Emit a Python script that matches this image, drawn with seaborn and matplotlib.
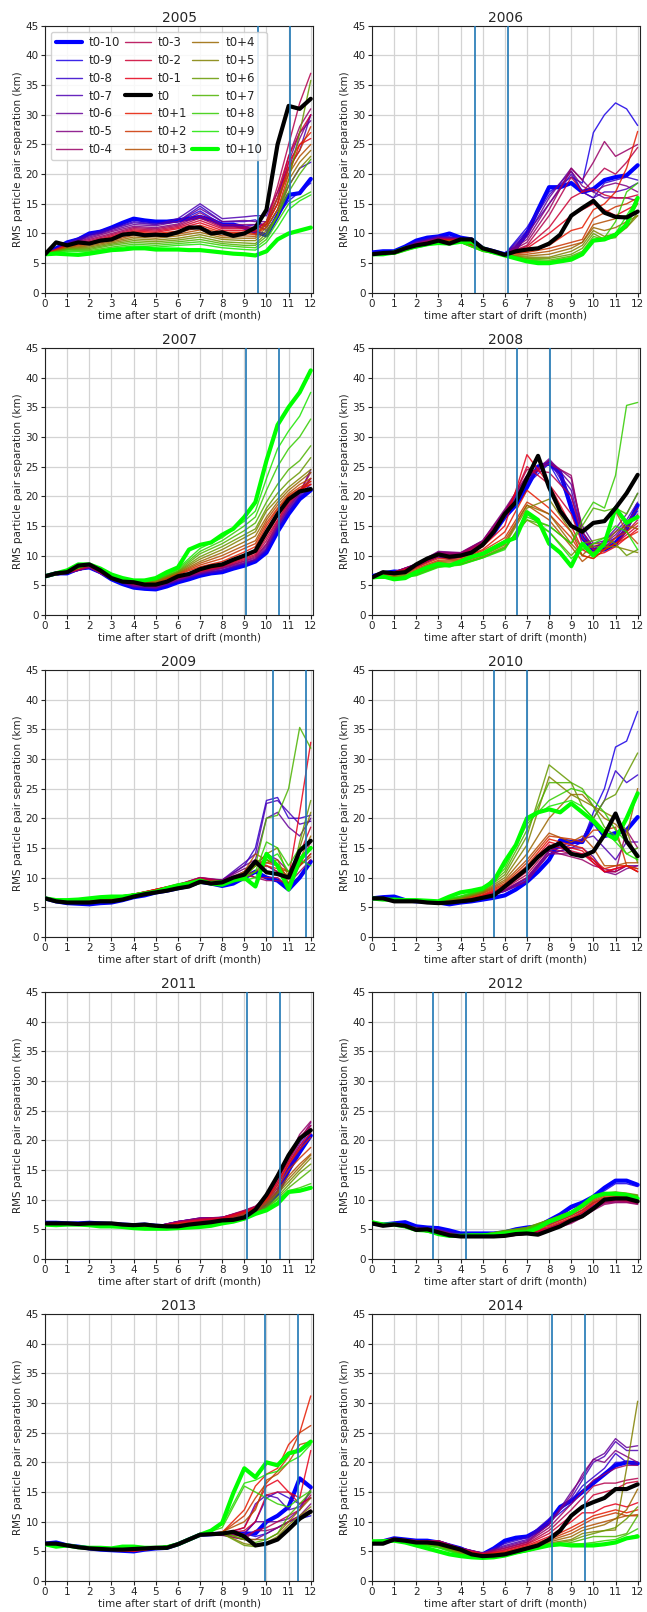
import matplotlib
matplotlib.use("Agg")
import matplotlib.pyplot as plt
import seaborn as sns
import pandas as pd

# ---------------- data ----------------
YEARS = [2005, 2006, 2007, 2008, 2009, 2010, 2011, 2012, 2013, 2014]
LABELS = ['t0-10', 't0-9', 't0-8', 't0-7', 't0-6', 't0-5', 't0-4', 't0-3', 't0-2', 't0-1', 't0',
          't0+1', 't0+2', 't0+3', 't0+4', 't0+5', 't0+6', 't0+7', 't0+8', 't0+9', 't0+10']
THIN_LABELS = ['t0-9', 't0-8', 't0-7', 't0-6', 't0-5', 't0-4', 't0-3', 't0-2', 't0-1',
               't0+1', 't0+2', 't0+3', 't0+4', 't0+5', 't0+6', 't0+7', 't0+8', 't0+9']

# time grids (month)
T_THICK = [0, 0.5, 1, 1.5, 2, 2.5, 3, 3.5, 4, 4.5, 5, 5.5, 6, 6.5, 7, 7.5, 8, 8.5, 9, 9.5, 10, 10.5, 11, 11.5, 12]
T_THIN = [0, 1, 2, 3, 4, 5, 6, 7, 8, 9, 9.5, 10, 10.5, 11, 11.5, 12]

# vertical marker lines per year
VLINE_A = [9.62, 4.67, 9.09, 6.55, 10.29, 5.52, 9.11, 2.76, 9.94, 8.13]
VLINE_B = [11.07, 6.16, 10.58, 8.03, 11.78, 6.99, 10.60, 4.24, 11.43, 9.61]

# ---- 2005 ----
M10_2005 = [6.5, 7.5, 8.5, 9, 10, 10.3, 11, 11.8, 12.5, 12.2, 12, 12, 12.2, 12.5, 12.8, 12.3, 11.5, 11.5, 11, 10.2, 9.7, 13, 16.5, 16.8, 19.2]
T0_2005 = [6.5, 8.5, 8, 8.5, 8.3, 8.8, 9, 9.8, 10, 9.7, 9.8, 9.7, 10.2, 11, 11, 10, 10.2, 9.6, 10, 11, 14, 25, 31.5, 31, 32.7]
P10_2005 = [6.5, 6.6, 6.5, 6.4, 6.6, 6.9, 7.2, 7.3, 7.5, 7.5, 7.3, 7.3, 7.3, 7.2, 7.2, 7.0, 6.8, 6.6, 6.5, 6.3, 7.0, 9.0, 10, 10.5, 11.0]
THIN_2005 = [
    [6.5, 8.5, 10, 11, 12.3, 11.8, 12, 13.8, 11.5, 11.2, 11.5, 10.5, 13, 15.5, 17, 18.5],
    [6.5, 8.4, 9.8, 10.8, 12, 11.6, 12, 14.6, 12, 12, 12.3, 11, 14, 18, 21, 22],
    [6.5, 8.3, 9.6, 10.7, 11.8, 11.5, 12.5, 15, 12.5, 12.8, 13, 13, 17, 21, 24, 30],
    [6.5, 8.2, 9.4, 10.5, 11.5, 11.3, 12, 14.2, 12, 12.2, 12, 12, 16, 22, 27, 29],
    [6.5, 8.1, 9.2, 10.3, 11.2, 11, 11.6, 13.5, 11.5, 11.5, 11.5, 11.5, 15, 21, 26, 30],
    [6.5, 8.1, 9, 10, 11, 10.8, 11.4, 13, 11.2, 11.2, 11, 11.5, 16, 23, 28, 31],
    [6.5, 8, 8.8, 9.8, 10.8, 10.6, 11.2, 12.6, 11, 11, 10.8, 12, 18, 25, 32, 37],
    [6.5, 8, 8.6, 9.6, 10.6, 10.4, 11, 12.2, 10.8, 10.8, 10.5, 12, 17, 23, 27, 30],
    [6.5, 8, 8.5, 9.4, 10.4, 10.2, 10.8, 11.8, 10.5, 10.5, 10.3, 11.5, 15, 22, 25, 26],
    [6.5, 7.9, 8.4, 9.2, 10.2, 10, 10.4, 11.4, 10.2, 10.2, 10, 11, 14, 20, 25, 27],
    [6.5, 7.8, 8.3, 9, 10, 9.8, 10.2, 11, 10, 10, 9.8, 11.5, 15, 21, 24, 28],
    [6.5, 7.7, 8.1, 8.8, 9.7, 9.5, 9.9, 10.6, 9.6, 9.6, 9.5, 12, 16, 20, 23, 25],
    [6.5, 7.6, 7.9, 8.6, 9.4, 9.2, 9.6, 10.2, 9.3, 9.2, 9.2, 11, 14, 19, 22, 24],
    [6.5, 7.5, 7.7, 8.4, 9.1, 8.9, 9.2, 9.8, 9, 8.8, 8.8, 10.5, 13, 18, 21, 23],
    [6.5, 7.4, 7.5, 8.2, 8.8, 8.6, 8.9, 9.4, 8.6, 8.4, 8.3, 10, 13, 19, 27, 35.8],
    [6.5, 7.3, 7.3, 8, 8.5, 8.3, 8.6, 9, 8.3, 8, 8, 9.5, 13, 17, 20, 22.5],
    [6.5, 7.2, 7.1, 7.7, 8.2, 8, 8.3, 8.6, 8, 7.7, 7.6, 9, 12, 15, 16, 17],
    [6.5, 7, 6.9, 7.5, 7.9, 7.7, 8, 8.2, 7.6, 7.3, 7.2, 8.5, 11, 14, 15.5, 16.5],
]

# ---- 2006 ----
M10_2006 = [6.8, 7, 7, 7.8, 8.8, 9.3, 9.5, 10, 9.3, 9, 7.5, 7, 6.5, 7.5, 10, 14, 17.8, 17.8, 18.5, 17, 17.5, 19, 19.5, 19.8, 21.5]
T0_2006 = [6.5, 6.7, 6.8, 7.5, 8, 8.3, 8.8, 8.3, 9, 9, 7.5, 7, 6.4, 7, 7.3, 7.5, 8.3, 9.8, 13, 14.3, 15.5, 13.5, 12.8, 12.7, 13.7]
P10_2006 = [6.5, 6.5, 6.8, 7.5, 7.8, 8.2, 8.4, 8.3, 8.6, 8.6, 7.5, 6.8, 6.3, 5.8, 5.3, 5, 5, 5.3, 5.6, 6.5, 8.8, 9, 9.8, 11.5, 16]
THIN_2006 = [
    [6.8, 6.9, 8.7, 9.6, 9.3, 7.5, 6.5, 11, 17, 19.5, 18.5, 27, 30, 32, 31, 28.2],
    [6.8, 6.9, 8.6, 9.5, 9.2, 7.5, 6.5, 10.5, 16.5, 20.5, 17, 16, 18.5, 19, 19.5, 19],
    [6.7, 6.9, 8.5, 9.4, 9.2, 7.5, 6.5, 10, 15, 20, 17, 16, 17, 17, 17.5, 18.5],
    [6.7, 6.8, 8.4, 9.3, 9.1, 7.4, 6.5, 9.5, 16, 21, 19, 17, 16, 16, 16, 15.5],
    [6.7, 6.8, 8.3, 9.2, 9.1, 7.4, 6.5, 9, 15, 20.5, 18, 17, 18, 18.5, 18, 17],
    [6.7, 6.8, 8.3, 9.1, 9, 7.4, 6.5, 8.5, 14, 21, 19, 22, 25.5, 23, 24, 25],
    [6.6, 6.8, 8.2, 9, 9, 7.4, 6.5, 8, 13, 19.5, 17, 19, 21, 20, 22, 24.5],
    [6.6, 6.7, 8.1, 9, 8.9, 7.3, 6.5, 7.8, 11, 16, 17, 17.5, 16.5, 16, 16, 16.5],
    [6.6, 6.7, 8, 8.9, 8.9, 7.3, 6.4, 7.5, 10, 13, 14, 15, 14, 13, 14, 15],
    [6.6, 6.7, 8, 8.8, 8.8, 7.3, 6.4, 7, 8, 10.5, 11, 14, 15, 17, 21, 27.2],
    [6.6, 6.7, 7.9, 8.7, 8.8, 7.2, 6.4, 6.8, 7.5, 8.5, 9, 12.5, 13.5, 14.5, 15, 16],
    [6.6, 6.7, 7.9, 8.7, 8.7, 7.2, 6.3, 6.5, 7, 8, 8.5, 11.5, 12, 12.5, 13, 13.5],
    [6.6, 6.6, 7.9, 8.6, 8.7, 7.2, 6.3, 6.2, 6.5, 7.5, 8.5, 11, 10.5, 11, 12, 13],
    [6.6, 6.6, 7.8, 8.6, 8.6, 7.1, 6.3, 6, 6, 7, 8, 10.5, 9.5, 10, 11, 13],
    [6.5, 6.6, 7.8, 8.5, 8.6, 7.1, 6.3, 5.8, 5.8, 6.5, 7.5, 10, 9, 9.5, 11, 13.5],
    [6.5, 6.6, 7.7, 8.5, 8.5, 7.1, 6.3, 5.7, 5.5, 6.2, 7, 9.5, 9, 9.3, 12, 15],
    [6.5, 6.5, 7.7, 8.4, 8.5, 7, 6.3, 5.5, 5.3, 6, 6.8, 9, 9.3, 12, 17, 18.5],
    [6.5, 6.5, 7.6, 8.4, 8.5, 7, 6.3, 5.4, 5.1, 5.8, 6.5, 9, 9, 10, 13, 16],
]

# ---- 2007 ----
M10_2007 = [6.5, 7, 7, 7.8, 8, 7.2, 6, 5.2, 4.6, 4.4, 4.3, 4.8, 5.5, 6, 6.6, 7, 7.2, 7.8, 8.3, 9, 10.5, 14, 17, 19.5, 21]
T0_2007 = [6.5, 7, 7.2, 8.3, 8.5, 7.5, 6.2, 5.6, 5.5, 5.1, 5.1, 5.6, 6.5, 6.9, 7.7, 8.2, 8.5, 9.3, 10, 10.8, 14, 17, 19.5, 20.8, 21.2]
P10_2007 = [6.5, 7, 7.5, 8.5, 8.5, 7.8, 6.8, 6.2, 5.8, 5.8, 6.2, 7.2, 8, 11, 11.8, 12.2, 13.5, 14.5, 16.5, 19, 26, 32, 35, 37.5, 41.2]
THIN_2007 = [
    [6.5, 7, 8, 6, 4.6, 4.4, 5.6, 6.7, 7.3, 8.4, 9.1, 10.8, 14.2, 17.2, 19.8, 21],
    [6.5, 7, 8, 6, 4.7, 4.4, 5.7, 6.8, 7.5, 8.6, 9.2, 11, 14.5, 17.5, 20, 21.5],
    [6.5, 7, 8, 6, 4.8, 4.5, 5.8, 6.9, 7.6, 8.7, 9.3, 11.2, 14.8, 17.8, 20.2, 22],
    [6.5, 7, 8, 6, 4.9, 4.6, 5.9, 7, 7.8, 8.8, 9.4, 11.5, 15, 18, 20.5, 24.5],
    [6.5, 7.1, 8, 6.1, 5, 4.7, 6, 7.1, 7.9, 9, 9.6, 11.8, 15.2, 18.3, 20.5, 23],
    [6.5, 7.1, 8.1, 6.1, 5.1, 4.8, 6.1, 7.2, 8, 9.1, 9.8, 12, 15.5, 18.5, 20.8, 24],
    [6.5, 7.1, 8.2, 6.1, 5.2, 4.9, 6.2, 7.3, 8.1, 9.3, 10, 12.5, 15.8, 18.8, 20.8, 23],
    [6.5, 7.1, 8.3, 6.2, 5.3, 5, 6.3, 7.4, 8.2, 9.5, 10.2, 13, 16, 19, 20.8, 22.5],
    [6.5, 7.2, 8.4, 6.2, 5.4, 5.1, 6.4, 7.5, 8.3, 9.7, 10.5, 13.5, 16.5, 19.2, 21, 22],
    [6.5, 7.2, 8.5, 6.3, 5.5, 5.3, 6.8, 8.1, 9, 10.6, 11.5, 15, 17.8, 20, 21.2, 22],
    [6.5, 7.2, 8.5, 6.4, 5.5, 5.4, 6.9, 8.4, 9.5, 11.2, 12, 15.5, 18, 20.2, 21.5, 22.5],
    [6.5, 7.2, 8.5, 6.4, 5.6, 5.5, 7, 8.7, 10, 11.7, 12.5, 16, 18.5, 20.5, 22, 23],
    [6.5, 7.3, 8.5, 6.5, 5.6, 5.6, 7.1, 9, 10.5, 12.3, 13.3, 16.5, 19, 21, 22.5, 24],
    [6.5, 7.3, 8.5, 6.5, 5.6, 5.7, 7.2, 9.4, 11, 13, 14, 17.5, 19.5, 21.5, 23, 24.5],
    [6.5, 7.3, 8.5, 6.6, 5.7, 5.8, 7.3, 9.8, 11.5, 13.5, 14.5, 18, 20.5, 22.5, 24, 26.5],
    [6.5, 7.3, 8.5, 6.6, 5.7, 5.9, 7.4, 10.3, 12, 14.2, 15.5, 19, 22, 24.5, 26, 28.5],
    [6.5, 7.4, 8.5, 6.7, 5.7, 6, 7.6, 10.7, 12.5, 15, 16.5, 21, 25, 28, 30, 33],
    [6.5, 7.4, 8.5, 6.7, 5.8, 6.1, 7.8, 11.2, 13, 15.8, 17.5, 23, 28, 31, 33.5, 37.5],
]

# ---- 2008 ----
M10_2008 = [6.5, 7, 7.3, 7.2, 8.3, 9.2, 10, 9.6, 10, 10.6, 12, 13.8, 16.5, 18.5, 21.5, 25, 25.5, 24, 18, 13, 11, 11, 12, 14.5, 18.5]
T0_2008 = [6.3, 7.2, 7, 7.2, 8.5, 9.5, 10.2, 9.8, 10, 10.5, 11.8, 14, 17, 19, 23, 26.8, 21.5, 17.5, 15, 14, 15.5, 15.8, 18, 20.5, 23.6]
P10_2008 = [6.3, 6.5, 6, 6.2, 7.2, 8, 8.6, 8.3, 9, 9.8, 10.3, 11.3, 12.3, 13, 17.3, 16, 12, 10.5, 8.2, 12, 10, 12, 18, 15.5, 16.5]
THIN_2008 = [
    [6.5, 7.2, 8.4, 10.2, 10.1, 12, 16.8, 22, 25.5, 19, 13, 11, 11.5, 12.5, 15, 17.5],
    [6.5, 7.2, 8.5, 10.4, 10.2, 12.2, 17, 22.5, 26, 20, 14, 11.5, 12, 13, 15.5, 18],
    [6.5, 7.2, 8.5, 10.5, 10.3, 12.3, 17.2, 23, 26, 21, 14, 11, 12.5, 14, 16, 19],
    [6.5, 7.2, 8.5, 10.6, 10.4, 12.5, 17.5, 23, 26.3, 22, 15, 12, 12.5, 14.5, 17, 20.5],
    [6.5, 7.2, 8.6, 10.7, 10.5, 12.5, 17.8, 23.5, 26, 23, 14, 11.5, 12, 13.5, 15.5, 18],
    [6.5, 7.2, 8.5, 10.5, 10.4, 12.4, 17.5, 23.5, 25.5, 23.5, 14, 11, 11.5, 13, 14.5, 17],
    [6.5, 7.2, 8.4, 10.3, 10.2, 12.2, 17, 24.5, 24, 20, 13, 11, 11, 12, 14, 16],
    [6.5, 7.1, 8.3, 10.1, 10, 12, 16.5, 25, 22, 17, 12, 10.5, 11, 12, 13.5, 15],
    [6.5, 7, 8.2, 9.8, 9.8, 11.5, 15, 27, 22, 15, 11, 10, 10.5, 11.5, 13, 14.5],
    [6.4, 6.9, 8, 9.5, 9.6, 11, 14, 21, 18, 14, 10, 9.5, 11, 12, 13, 14],
    [6.4, 6.8, 7.8, 9.2, 9.4, 10.8, 13, 19, 17, 13, 10, 9.5, 11, 13, 14, 15.5],
    [6.4, 6.6, 7.6, 9, 9.2, 10.5, 12.5, 18.5, 16, 11.5, 9, 10.5, 12, 17.5, 14, 12],
    [6.3, 6.5, 7.4, 8.8, 9, 10.3, 12, 18.5, 17, 12, 10, 12, 12, 14, 15, 14.5],
    [6.3, 6.4, 7.2, 8.5, 8.8, 10, 11.8, 18, 19.5, 14, 11, 11.5, 11.5, 11.5, 11, 10.5],
    [6.3, 6.3, 7, 8.3, 8.6, 9.8, 11.5, 16, 14, 10, 12, 12.5, 13, 12, 10, 11],
    [6.3, 6.2, 6.8, 8.2, 8.5, 9.7, 11.3, 16, 15, 12, 15, 18, 17.5, 18, 17, 20.5],
    [6.3, 6.1, 6.7, 8.1, 8.5, 9.6, 11.2, 16.5, 15, 12, 16, 19, 18, 23.5, 35.3, 35.8],
    [6.3, 6.1, 6.6, 8, 8.4, 9.6, 11, 17, 14, 9.5, 11, 12, 13, 15, 14, 11],
]

# ---- 2009 ----
M10_2009 = [6.5, 6, 5.7, 5.6, 5.5, 5.7, 5.8, 6.2, 6.7, 7, 7.5, 7.8, 8.2, 8.6, 9.3, 9, 8.6, 9, 10, 11, 10, 9.5, 8, 10, 12.7]
T0_2009 = [6.5, 6, 5.8, 5.8, 5.8, 6, 6, 6.3, 6.8, 7.2, 7.5, 7.8, 8.2, 8.5, 9.3, 9, 9.2, 10, 10.5, 12.7, 10.9, 10.6, 10, 14.5, 16.2]
P10_2009 = [6.5, 6.2, 6.2, 6.3, 6.5, 6.7, 6.8, 6.8, 7, 7.3, 7.6, 8.2, 8.7, 9, 9.5, 9, 8.8, 9.5, 10, 8.5, 14, 12, 8, 13, 15]
THIN_2009 = [
    [6.5, 5.8, 5.6, 5.9, 6.8, 7.5, 8.3, 9.2, 9, 11, 13, 12, 11, 9, 10, 12.5],
    [6.5, 5.8, 5.7, 6, 6.8, 7.6, 8.4, 9.4, 9.5, 12, 15, 23, 23.5, 20, 20, 20.5],
    [6.5, 5.8, 5.7, 6, 6.9, 7.6, 8.5, 9.5, 9.6, 12.5, 14, 22.5, 23, 21, 19, 19.5],
    [6.5, 5.8, 5.8, 6.1, 6.9, 7.7, 8.6, 9.8, 9.6, 12, 13, 20, 21, 18.5, 17, 20],
    [6.5, 5.9, 5.8, 6.1, 7, 7.8, 8.7, 10, 9.6, 11.5, 12, 14, 13, 11, 12, 14],
    [6.5, 5.9, 5.9, 6.2, 7, 7.9, 8.8, 10, 9.5, 11, 10, 9.5, 9.5, 9, 11, 13],
    [6.5, 5.9, 5.9, 6.2, 7.1, 8, 8.8, 10, 9.4, 10.5, 10, 10, 10, 8.5, 12, 16],
    [6.5, 5.9, 6, 6.3, 7.1, 8, 8.8, 9.8, 9.3, 10.5, 11, 12, 11, 8.5, 14, 18.5],
    [6.5, 6, 6, 6.3, 7.2, 8, 8.9, 9.6, 9.2, 10.3, 12, 13, 12, 10, 21, 32.8],
    [6.5, 6, 6.1, 6.4, 7.2, 8, 8.8, 9.5, 9.2, 10.5, 12, 12.5, 12, 11, 13, 15],
    [6.5, 6, 6.1, 6.4, 7.2, 7.9, 8.7, 9.4, 9.1, 10.8, 12.5, 12, 11.5, 11, 12, 14],
    [6.5, 6, 6.1, 6.4, 7.2, 7.9, 8.6, 9.3, 9, 11, 14, 13, 12, 10, 12, 13.5],
    [6.5, 6, 6.2, 6.5, 7.2, 7.8, 8.5, 9.2, 9, 11, 13, 12.5, 13, 9, 13, 17],
    [6.5, 6, 6.2, 6.5, 7.2, 7.7, 8.4, 9.2, 9, 10.5, 12, 14, 15, 10, 15, 21],
    [6.5, 6.1, 6.3, 6.6, 7.2, 7.7, 8.3, 9.1, 9.2, 10, 11, 13, 12, 8, 16, 23],
    [6.5, 6.1, 6.3, 6.6, 7.2, 7.6, 8.2, 9, 9.3, 10, 12, 20, 20.5, 25, 35.3, 31.8],
    [6.5, 6.1, 6.4, 6.7, 7.2, 7.6, 8.1, 9, 9.4, 10, 11, 16, 15, 12, 15, 16],
    [6.5, 6.1, 6.4, 6.7, 7.2, 7.5, 8, 9.2, 9.5, 9.5, 10, 13, 14, 11, 13, 12],
]

# ---- 2010 ----
M10_2010 = [6.5, 6.7, 6.8, 6.2, 6, 6, 5.8, 5.5, 5.8, 6, 6.3, 6.6, 7, 8, 9.3, 11, 13, 16.3, 16, 16, 19.5, 17, 17.5, 18, 20.2]
T0_2010 = [6.5, 6.5, 6, 6, 6, 5.8, 5.7, 5.8, 6, 6.2, 6.6, 7, 8.5, 10, 11.5, 13.5, 15, 15.8, 14, 13.6, 14.4, 17.2, 20.8, 16.1, 13.6]
P10_2010 = [6.5, 6.3, 6.3, 6.2, 6.2, 6.1, 6, 6.8, 7.5, 7.8, 8.2, 9.4, 12.7, 15.5, 20, 21, 21.5, 21, 22.5, 21, 19.5, 17.5, 16.5, 20, 24.2]
THIN_2010 = [
    [6.6, 6.3, 6, 5.6, 5.9, 6.7, 7.8, 9.8, 14, 15, 16, 21, 25, 32, 33, 38],
    [6.6, 6.3, 6, 5.6, 5.9, 6.7, 7.8, 10, 14.5, 15.5, 16.5, 20, 23, 28, 26, 27.3],
    [6.6, 6.3, 6, 5.6, 5.9, 6.6, 7.7, 9.5, 14.5, 16, 16.5, 17, 15, 13, 16, 16],
    [6.6, 6.3, 6, 5.6, 5.9, 6.6, 7.7, 9.3, 14, 15, 15, 13.5, 11, 11, 12, 12],
    [6.6, 6.3, 6, 5.6, 5.9, 6.6, 7.8, 9.5, 14, 14, 14, 13, 11, 10.5, 11.5, 12],
    [6.6, 6.3, 6, 5.6, 5.9, 6.7, 8, 10, 14.5, 13.5, 13, 12, 11.5, 11, 18, 15],
    [6.6, 6.3, 6, 5.6, 6, 6.8, 8.2, 10.5, 15, 14, 14, 13, 11, 11, 12, 11],
    [6.6, 6.3, 6, 5.6, 6, 6.9, 8.3, 11, 15.5, 14.5, 14, 12.5, 11, 11.5, 12, 11.5],
    [6.6, 6.3, 6, 5.6, 6, 7, 8.5, 11.5, 16, 15, 14.5, 12.5, 11, 11.5, 12, 11],
    [6.6, 6.3, 6.1, 5.7, 6.1, 7.1, 8.8, 12, 16.5, 15.5, 15, 13, 11.5, 12, 12, 11],
    [6.6, 6.3, 6.1, 5.8, 6.2, 7.3, 9, 12.5, 17, 16.5, 16, 18, 18, 18.5, 12, 11.5],
    [6.6, 6.3, 6.1, 5.8, 6.3, 7.4, 9.3, 13, 17.5, 16, 17, 15, 12, 12, 12.5, 12.5],
    [6.6, 6.3, 6.1, 5.9, 6.4, 7.5, 9.6, 14, 20, 24, 24, 22, 20, 19, 17, 25],
    [6.6, 6.3, 6.2, 5.9, 6.5, 7.6, 10, 15.5, 27, 24, 23, 22, 21, 20, 18, 12.5],
    [6.6, 6.3, 6.2, 6, 6.6, 7.7, 10.5, 17, 29, 26, 22, 20, 23, 24, 27.5, 31],
    [6.6, 6.3, 6.2, 6, 6.7, 7.8, 11, 18, 26, 26, 25, 22, 18.5, 17, 14, 15],
    [6.6, 6.3, 6.2, 6.1, 6.8, 7.9, 11.5, 19, 23, 25, 24.5, 23, 21, 18, 16, 13],
    [6.6, 6.3, 6.2, 6.1, 6.9, 8, 12, 19.5, 22, 23, 22, 20, 18, 16, 14, 13],
]

# ---- 2011 ----
M10_2011 = [6.1, 6.1, 6, 6, 6.1, 6, 5.9, 5.8, 5.7, 5.8, 5.6, 5.5, 5.5, 5.9, 6.2, 6.5, 6.8, 7, 7.2, 7.8, 9, 11, 15, 18, 20.8]
T0_2011 = [6, 6, 6, 5.9, 6, 6, 6, 5.8, 5.7, 5.8, 5.6, 5.5, 5.5, 5.8, 6, 6.2, 6.5, 6.6, 7, 8.3, 10.8, 14, 17.5, 20.3, 21.7]
P10_2011 = [5.8, 5.7, 5.8, 5.8, 5.7, 5.5, 5.5, 5.4, 5.2, 5.1, 5.1, 5.1, 5.2, 5.3, 5.4, 5.6, 6, 6.3, 6.8, 7.6, 8.2, 9.3, 11.3, 11.5, 12]
THIN_2011 = [
    [6.1, 6, 6, 5.8, 5.6, 5.5, 6.3, 6.8, 6.9, 7.7, 8.3, 9.3, 11.5, 14.5, 18, 21],
    [6.1, 6, 6, 5.8, 5.6, 5.5, 6.3, 6.8, 6.9, 7.8, 8.4, 9.5, 12, 15, 18.5, 21.5],
    [6.1, 6, 6, 5.8, 5.6, 5.5, 6.3, 6.9, 7, 7.9, 8.5, 9.7, 12.5, 15.5, 19, 22],
    [6.1, 6, 6, 5.8, 5.6, 5.5, 6.3, 6.9, 7, 8, 8.6, 10, 13, 16, 19.5, 22.5],
    [6.1, 6, 6, 5.8, 5.6, 5.5, 6.3, 6.9, 7, 8.1, 8.8, 10.3, 13.5, 16.5, 20, 23],
    [6.1, 6, 6, 5.8, 5.6, 5.5, 6.2, 6.8, 7, 8.2, 8.9, 10.5, 14, 17, 21, 23.2],
    [6.1, 6, 6, 5.8, 5.6, 5.5, 6.2, 6.7, 7, 8.1, 8.8, 10.5, 13.8, 17, 20.5, 22.5],
    [6.1, 6, 6, 5.8, 5.6, 5.4, 6.1, 6.6, 6.9, 8, 8.7, 10.3, 13.5, 16.5, 20, 22],
    [6, 6, 6, 5.8, 5.6, 5.4, 6, 6.5, 6.8, 7.9, 8.6, 10, 13, 16, 19, 21.2],
    [6, 6, 6, 5.7, 5.5, 5.4, 5.9, 6.3, 6.6, 7.8, 8.5, 10, 12.5, 16, 18.5, 20.5],
    [6, 5.9, 5.9, 5.7, 5.5, 5.3, 5.8, 6.1, 6.4, 7.6, 8.3, 9.8, 12, 15, 17, 18.8],
    [6, 5.9, 5.9, 5.7, 5.4, 5.3, 5.7, 5.9, 6.2, 7.4, 8.1, 9.5, 11.5, 14, 16, 17.7],
    [5.9, 5.9, 5.9, 5.6, 5.4, 5.2, 5.6, 5.7, 6, 7.2, 7.9, 9.3, 11.2, 13.5, 15.5, 17.5],
    [5.9, 5.8, 5.8, 5.6, 5.3, 5.2, 5.5, 5.6, 6, 7, 7.7, 9, 11, 13, 15, 17],
    [5.9, 5.8, 5.8, 5.6, 5.3, 5.2, 5.4, 5.5, 6, 7, 7.6, 8.8, 10.5, 12.5, 14.5, 16],
    [5.9, 5.8, 5.8, 5.6, 5.3, 5.2, 5.4, 5.5, 6, 7, 7.5, 8.6, 10.2, 12, 13.5, 15],
    [5.8, 5.8, 5.8, 5.5, 5.2, 5.1, 5.3, 5.4, 6, 7, 7.5, 8.5, 10, 11.5, 12, 12.7],
    [5.8, 5.8, 5.8, 5.5, 5.2, 5.1, 5.3, 5.4, 6, 7, 7.5, 8.4, 9.6, 11.2, 11.6, 12.2],
]

# ---- 2012 ----
M10_2012 = [6, 5.8, 6, 6.2, 5.5, 5.3, 5.2, 4.8, 4.3, 4.3, 4.3, 4.3, 4.5, 5, 5.3, 5.5, 6.5, 7.5, 8.8, 9.5, 10.5, 12, 13.2, 13.2, 12.5]
T0_2012 = [6, 5.6, 5.8, 5.6, 4.9, 5, 4.5, 4, 3.8, 3.8, 3.8, 3.8, 3.9, 4.2, 4.3, 4.1, 4.8, 5.5, 6.5, 7.2, 8.5, 10, 10.2, 10.2, 9.7]
P10_2012 = [6.2, 5.8, 5.8, 5.5, 4.9, 4.8, 4.2, 3.9, 3.9, 4, 4, 4.1, 4.3, 4.5, 4.5, 5.2, 6.3, 7, 7.8, 9, 10.5, 11, 11, 10.8, 10.2]
THIN_2012 = [
    [6, 5.9, 5.4, 5.1, 4.3, 4.2, 4.4, 5.2, 6.3, 8.5, 9.3, 10.3, 11.5, 12.7, 12.7, 12.2],
    [6, 5.9, 5.3, 5, 4.1, 4, 4.2, 4.8, 5.8, 7.3, 8.2, 9.5, 10.2, 10.3, 10.2, 9.8],
    [6, 5.9, 5.3, 4.9, 4, 3.9, 4.1, 4.5, 5.3, 6.8, 7.8, 9, 9.8, 10, 10, 9.6],
    [6, 5.9, 5.2, 4.8, 3.9, 3.8, 4, 4.4, 5.1, 6.5, 7.5, 8.8, 9.6, 9.8, 9.8, 9.5],
    [6, 5.8, 5.2, 4.8, 3.9, 3.7, 3.9, 4.3, 4.9, 6.3, 7.2, 8.5, 9.4, 9.6, 9.6, 9.3],
    [6, 5.8, 5.1, 4.7, 3.8, 3.7, 3.8, 4.2, 4.8, 6, 7, 8.2, 9.2, 9.5, 9.5, 9.2],
    [6, 5.8, 5.1, 4.7, 3.8, 3.7, 3.8, 4.2, 4.8, 6.2, 7.2, 8.5, 9.5, 9.8, 9.7, 9.4],
    [6, 5.8, 5, 4.6, 3.8, 3.7, 3.9, 4.3, 5, 6.5, 7.5, 8.8, 9.8, 10, 9.9, 9.6],
    [6, 5.8, 5, 4.6, 3.8, 3.7, 3.9, 4.4, 5.2, 6.8, 7.8, 9.2, 10, 10.2, 10.1, 9.8],
    [6, 5.8, 5, 4.6, 3.8, 3.8, 4, 4.5, 5.5, 7, 8, 9.4, 10.2, 10.4, 10.3, 10],
    [6, 5.8, 5, 4.5, 3.8, 3.8, 4.1, 4.7, 5.7, 7.3, 8.3, 9.6, 10.4, 10.6, 10.5, 10.2],
    [6, 5.8, 4.9, 4.5, 3.8, 3.9, 4.3, 4.9, 6, 7.5, 8.6, 9.8, 10.6, 10.8, 10.7, 10.3],
    [6, 5.8, 4.9, 4.4, 3.8, 4, 4.5, 5.1, 6.3, 7.7, 8.8, 10, 10.8, 11, 10.9, 10.5],
    [6.1, 5.8, 4.9, 4.4, 3.8, 4.1, 4.7, 5.3, 6.6, 8, 9, 10.2, 11, 11.2, 11, 10.7],
    [6.1, 5.8, 4.9, 4.3, 3.8, 4.1, 4.8, 5.3, 6.6, 8, 9.1, 10.4, 11.1, 11.3, 11.1, 10.8],
    [6.1, 5.8, 4.9, 4.3, 3.9, 4.1, 4.7, 5.2, 6.5, 7.9, 9, 10.4, 11.1, 11.2, 11, 10.6],
    [6.1, 5.8, 4.9, 4.3, 3.9, 4, 4.5, 5, 6.4, 7.8, 9, 10.4, 11, 11.1, 10.9, 10.4],
    [6.2, 5.8, 4.9, 4.2, 3.9, 4, 4.4, 4.8, 6.3, 7.8, 8.9, 10.4, 11, 11, 10.8, 10.3],
]

# ---- 2013 ----
M10_2013 = [6.3, 6.5, 6, 5.8, 5.5, 5.3, 5.2, 5.1, 5, 5.3, 5.5, 5.6, 6.2, 7, 7.8, 7.9, 8, 8, 8, 8, 10, 11, 12.5, 17.3, 15.8]
T0_2013 = [6.3, 6.3, 6, 5.7, 5.5, 5.4, 5.3, 5.3, 5.4, 5.5, 5.6, 5.6, 6.2, 7, 7.8, 7.9, 8, 8.3, 7.5, 6, 6.3, 7, 8.7, 10.5, 11.7]
P10_2013 = [6.2, 5.8, 6, 5.7, 5.6, 5.6, 5.5, 5.8, 5.8, 5.6, 5.6, 5.7, 6.2, 7, 7.8, 8.5, 9.8, 14.8, 19, 17.5, 20, 19.5, 21.5, 22, 23.5]
THIN_2013 = [
    [6.4, 6, 5.5, 5.2, 5, 5.5, 6.2, 7.8, 8, 8, 7.5, 8, 9, 10, 10.5, 11],
    [6.3, 6, 5.5, 5.2, 5, 5.5, 6.2, 7.8, 7.8, 8, 10, 14, 15, 14, 13, 14],
    [6.3, 6, 5.5, 5.2, 5, 5.5, 6.2, 7.8, 7.8, 9, 13, 14.5, 14, 12, 12.5, 15],
    [6.3, 6, 5.5, 5.2, 5, 5.5, 6.2, 7.8, 7.7, 8, 10, 10, 10, 10.5, 12, 15.5],
    [6.3, 6, 5.5, 5.2, 5, 5.5, 6.2, 7.7, 7.7, 7, 7, 8, 9, 10, 11, 13],
    [6.3, 6, 5.5, 5.2, 5, 5.5, 6.2, 7.7, 7.8, 7, 8.5, 8.5, 9, 10, 11, 12],
    [6.3, 6, 5.5, 5.2, 5.1, 5.5, 6.2, 7.7, 8, 7.5, 8.5, 9, 10, 11, 12, 14.5],
    [6.3, 6, 5.5, 5.2, 5.1, 5.5, 6.2, 7.7, 8, 8.5, 10, 14.5, 15, 15, 13, 14],
    [6.3, 6, 5.5, 5.2, 5.1, 5.5, 6.2, 7.7, 8, 9, 12.5, 16, 17, 15, 14, 22],
    [6.3, 6, 5.5, 5.2, 5.1, 5.5, 6.2, 7.7, 8.2, 12, 16, 18, 19, 23, 25, 31.2],
    [6.3, 6, 5.5, 5.3, 5.2, 5.5, 6.2, 7.7, 8.2, 11, 14, 16.5, 18.5, 21, 25, 26.2],
    [6.3, 6, 5.5, 5.3, 5.2, 5.5, 6.2, 7.7, 8.3, 10, 12, 17, 18, 20, 23, 23.5],
    [6.3, 6, 5.5, 5.3, 5.2, 5.5, 6.2, 7.7, 8.2, 7, 7, 7, 8, 10, 12, 14],
    [6.3, 6, 5.5, 5.3, 5.3, 5.5, 6.2, 7.7, 8, 6.3, 6, 6.5, 7.5, 9.5, 11, 12.5],
    [6.3, 6, 5.5, 5.3, 5.3, 5.6, 6.2, 7.7, 8, 6, 5.8, 6.3, 7, 9, 10.5, 11.5],
    [6.3, 6, 5.5, 5.4, 5.4, 5.6, 6.2, 7.7, 8.2, 7, 6.5, 7, 8, 11, 13, 15],
    [6.3, 6, 5.6, 5.4, 5.5, 5.6, 6.2, 7.8, 9, 16, 15, 14, 13, 12.5, 14, 15.2],
    [6.3, 6, 5.6, 5.4, 5.6, 5.6, 6.2, 7.8, 9.5, 16.5, 17, 18, 18.5, 20, 21, 23],
]

# ---- 2014 ----
M10_2014 = [6.5, 6.7, 7.2, 7, 6.8, 6.8, 6.5, 6, 5.5, 4.7, 4.5, 5.5, 6.8, 7.3, 7.5, 8.5, 10, 12.5, 13.5, 15, 16.5, 18, 19.5, 20, 19.8]
T0_2014 = [6.3, 6.3, 7, 6.8, 6.5, 6.5, 6.3, 5.8, 5.3, 4.5, 4.2, 4.3, 4.5, 5, 5.5, 6, 7, 8.5, 11, 12.5, 13.3, 14, 15.5, 15.5, 16.3]
P10_2014 = [6.7, 6.7, 6.8, 6.5, 6, 5.5, 5, 4.5, 4.2, 4, 3.9, 4, 4.3, 4.8, 5.2, 5.6, 6, 6.2, 6, 6, 6, 6.2, 6.5, 7.2, 7.5]
THIN_2014 = [
    [6.5, 7.2, 6.8, 6.5, 5.6, 4.5, 6.5, 7.5, 10, 13, 15, 16.5, 18, 20, 20, 20],
    [6.5, 7.2, 6.8, 6.6, 5.6, 4.6, 6.3, 7.3, 10.5, 13.5, 16, 17.5, 19, 21.5, 20, 19.8],
    [6.5, 7.2, 6.8, 6.7, 5.6, 4.7, 6, 7, 10, 14, 17, 20, 21, 23.5, 22, 22],
    [6.5, 7.2, 6.8, 6.8, 5.5, 4.7, 5.8, 6.8, 9.5, 15, 17.5, 20.5, 21.5, 24, 22.5, 22.8],
    [6.5, 7.2, 6.8, 6.8, 5.5, 4.7, 5.6, 6.6, 9.5, 14.5, 18, 20.5, 20, 22, 21, 20],
    [6.5, 7.2, 6.8, 6.8, 5.5, 4.7, 5.5, 6.5, 9, 13, 15, 17, 18, 19, 19.5, 19.5],
    [6.5, 7.1, 6.7, 6.7, 5.4, 4.6, 5.3, 6.3, 8.5, 12, 14, 16, 16.5, 16.5, 17, 17.3],
    [6.5, 7.1, 6.7, 6.6, 5.4, 4.5, 5.2, 6.2, 8, 11, 12.5, 14.5, 15, 15.5, 16.5, 16.8],
    [6.5, 7.1, 6.6, 6.5, 5.3, 4.5, 5, 6, 7.5, 10, 11.5, 11.5, 12.5, 13, 12.5, 13.2],
    [6.5, 7, 6.6, 6.4, 5.2, 4.4, 4.9, 5.8, 7.2, 9, 10, 11, 11.5, 12, 11.5, 12],
    [6.5, 7, 6.5, 6.3, 5.1, 4.3, 4.8, 5.6, 7, 8.5, 9.5, 10.5, 11, 11.5, 11, 11],
    [6.5, 7, 6.5, 6.2, 5, 4.3, 4.7, 5.5, 6.8, 8, 9, 9.5, 10, 10.5, 11, 11.2],
    [6.5, 7, 6.4, 6.1, 4.9, 4.2, 4.6, 5.4, 6.6, 7.5, 8.5, 9, 9.5, 10.5, 12, 15.5],
    [6.6, 6.9, 6.4, 6, 4.8, 4.1, 4.5, 5.3, 6.4, 7, 8, 8.3, 8.5, 8.6, 19, 30.3],
    [6.6, 6.9, 6.3, 5.9, 4.7, 4.1, 4.4, 5.2, 6.2, 6.8, 7.5, 8, 8.5, 9, 10.5, 12.5],
    [6.6, 6.9, 6.3, 5.8, 4.6, 4, 4.4, 5.1, 6, 6.5, 7, 7.5, 7.5, 7.5, 8, 11],
    [6.6, 6.8, 6.2, 5.7, 4.5, 4, 4.3, 5, 6, 6.2, 6.3, 6.5, 6.8, 7, 7.8, 8.8],
    [6.6, 6.8, 6.2, 5.6, 4.4, 3.9, 4.3, 5, 6, 6, 6.1, 6.2, 6.3, 6.5, 7.3, 7.8],
]

PANELS = [
    (M10_2005, T0_2005, P10_2005, THIN_2005),
    (M10_2006, T0_2006, P10_2006, THIN_2006),
    (M10_2007, T0_2007, P10_2007, THIN_2007),
    (M10_2008, T0_2008, P10_2008, THIN_2008),
    (M10_2009, T0_2009, P10_2009, THIN_2009),
    (M10_2010, T0_2010, P10_2010, THIN_2010),
    (M10_2011, T0_2011, P10_2011, THIN_2011),
    (M10_2012, T0_2012, P10_2012, THIN_2012),
    (M10_2013, T0_2013, P10_2013, THIN_2013),
    (M10_2014, T0_2014, P10_2014, THIN_2014),
]


def series_color(lab):
    if lab == 't0':
        return (0, 0, 0)
    k = int(lab[2:])
    if k < 0:
        f = (k + 10) / 10.0
        return (f, 0.0, 1.0 - f)
    f = k / 10.0
    return (1.0 - f, f, 0.0)


# ---------------- style ----------------
sns.set_style("ticks", {"axes.grid": True, "grid.color": "#d3d3d3",
                        "axes.edgecolor": "#222222", "xtick.direction": "out",
                        "ytick.direction": "out"})
plt.rcParams['font.family'] = ['DejaVu Sans']

fig, axes = plt.subplots(5, 2, figsize=(6.47, 16.12), dpi=100)
fig.subplots_adjust(left=0.0696, right=0.989, top=0.984, bottom=0.0192,
                    wspace=0.22, hspace=0.206)

for idx, (year, (m10, t0, p10, thin)) in enumerate(zip(YEARS, PANELS)):
    ax = axes[idx // 2][idx % 2]
    series = {}
    for lab, vals in zip(THIN_LABELS, thin):
        series[lab] = (T_THIN, vals)
    series['t0-10'] = (T_THICK, m10)
    series['t0'] = (T_THICK, t0)
    series['t0+10'] = (T_THICK, p10)
    for lab in LABELS:
        xs, ys = series[lab]
        df = pd.DataFrame({'t': xs, 'v': ys})
        thick = lab in ('t0-10', 't0', 't0+10')
        sns.lineplot(data=df, x='t', y='v', ax=ax, color=series_color(lab),
                     lw=3.0 if thick else 1.0, alpha=1.0 if thick else 0.85,
                     label=lab if idx == 0 else None, sort=False,
                     zorder=4 if lab == 't0' else 3, legend=False)
    ax.axvline(VLINE_A[idx], color='#1f77b4', lw=1.2, zorder=5)
    ax.axvline(VLINE_B[idx], color='#1f77b4', lw=1.2, zorder=5)
    ax.set_xlim(0, 12.1)
    ax.set_ylim(0, 45)
    ax.set_xticks(list(range(13)))
    ax.set_yticks(list(range(0, 46, 5)))
    ax.tick_params(labelsize=7.5, length=3, pad=1.5)
    ax.set_xlabel('time after start of drift (month)', fontsize=7.5, labelpad=1)
    ax.set_ylabel('RMS particle pair separation (km)', fontsize=7.5, labelpad=2)
    ax.set_title(str(year), fontsize=10, pad=3)
    ax.grid(True, color='#d3d3d3', lw=0.9)
    ax.set_axisbelow(True)

axes[0][0].legend(ncol=3, loc='upper left', fontsize=8.5, handlelength=2.2,
                  handletextpad=0.6, columnspacing=0.4, labelspacing=0.4,
                  borderpad=0.4, borderaxespad=0.5, framealpha=0.85)

fig.savefig('out.png', dpi=100)
